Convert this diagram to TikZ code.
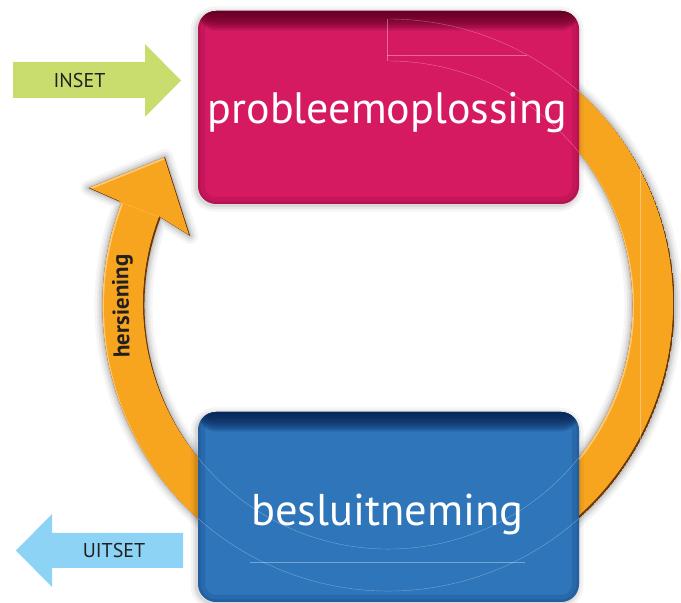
\documentclass[tikz,border=0pt]{standalone}
\usepackage{fontspec}
\setmainfont{PT Sans}
\definecolor{ringorange}{RGB}{247,165,30}
\definecolor{ringmid}{RGB}{196,118,18}
\definecolor{ringdark}{RGB}{112,56,0}
\definecolor{ringlight}{RGB}{252,200,118}
\definecolor{pinkmain}{RGB}{214,26,98}
\definecolor{pinkdark}{RGB}{100,0,36}
\definecolor{bluemain}{RGB}{46,117,186}
\definecolor{bluedark}{RGB}{8,36,86}
\definecolor{insetgreen}{RGB}{201,221,110}
\definecolor{uitsetblue}{RGB}{141,211,245}
\definecolor{textdark}{RGB}{35,31,32}
\tikzset{
  % annular arc around the two boxes, ending in an arrow head at the upper left
  ringshape/.style={insert path={
    (159:286pt) arc[start angle=159,end angle=420,radius=286pt]
    -- (420:244pt) arc[start angle=420,end angle=159,radius=244pt]
    -- (160.8:210pt) -- (146.5:268pt) -- (158.7:322pt) -- cycle}},
  tile/.style 2 args={rounded corners=18pt, inner sep=0pt, fill=#1,
    minimum width=381pt,
    path picture={
      % darkening that fades downwards from the top edge
      \foreach \i in {1,...,14}
        \fill[#2, opacity=0.15]
          ([yshift=2pt]path picture bounding box.north west)
          rectangle ([yshift=-\i*1.4pt]path picture bounding box.north east);
      % soft inner shadow along the sides
      \draw[#2, opacity=0.14, line width=14pt, rounded corners=18pt]
        (path picture bounding box.south west) rectangle (path picture bounding box.north east);
      \draw[#2, opacity=0.14, line width=5pt, rounded corners=18pt]
        (path picture bounding box.south west) rectangle (path picture bounding box.north east);
    }},
  tiletext/.style={text=white, anchor=base, inner sep=0pt},
  guide/.style={white, opacity=0.35, line width=0.4pt},
  sidetext/.style={text=textdark, font=\fontsize{20}{20}\selectfont, inner sep=0pt},
}
\begin{document}
\begin{tikzpicture}[x=1pt,y=1pt]
\useasboundingbox (0,0) rectangle (681,603);

% ---------- the circular arrow ----------
\begin{scope}[shift={(388.5,298)}]
  % soft halo
  \foreach \w/\o in {16/0.04,11/0.05,7/0.07,3/0.09}
    \draw[black, opacity=\o, line width=\w pt, line join=round, ringshape];
  % bevelled body
  \begin{scope}
    \clip[ringshape];
    \fill[ringdark, ringshape];
    \clip[shift={(-1.5,1.5)}, ringshape];
    \fill[ringmid, ringshape];
    \clip[shift={(-1.8,1.8)}, ringshape];
    \fill[ringlight, ringshape];
    \clip[shift={(1.6,-1.6)}, ringshape];
    \fill[ringorange, ringshape];
  \end{scope}
  % seam between head and shaft
  \draw[white, opacity=0.5, line width=0.4pt, dash pattern=on 1pt off 1pt]
    (159:244pt) -- (159:286pt);
  % faint vertical guide on the right arc
  \begin{scope}
    \clip[ringshape];
    \draw[guide] (251.5,135) -- (251.5,-150);
  \end{scope}
\end{scope}

% ---------- box shadows ----------
\foreach \yc/\h in {495.5/193, 96/190}{
  \foreach \w/\o in {12/0.04,7/0.05,3/0.07}
    \draw[black, opacity=\o, line width=\w pt, rounded corners=18pt]
      (196.5,\yc-\h/2-1.5) rectangle (577.5,\yc+\h/2-1.5);
}

% ---------- boxes ----------
\node[tile={pinkmain}{pinkdark}, minimum height=193pt] (pbox) at (388.5,495.5) {};
\node[tile={bluemain}{bluedark}, minimum height=190pt] (bbox) at (388.5,96) {};

% faint guide lines over the boxes
\begin{scope}[shift={(388.5,298)}]
  \begin{scope}
    \clip[rounded corners=18pt] (-190.5,101) rectangle (190.5,294);
    \draw[guide] (90:286pt) arc[start angle=90,end angle=30,radius=286pt];
    \draw[guide] (90:244pt) arc[start angle=90,end angle=20,radius=244pt];
    \draw[guide] (-1.5,286) -- (-1.5,244);
    \draw[guide] (-1.5,250) -- (138.7,250);
  \end{scope}
  \begin{scope}
    \clip[rounded corners=18pt] (-190.5,-297) rectangle (190.5,-107);
    \draw[guide] (195:286pt) arc[start angle=195,end angle=345,radius=286pt];
    \draw[guide] (195:244pt) arc[start angle=195,end angle=345,radius=244pt];
    \draw[guide] (-138.5,-257) -- (136.5,-257);
  \end{scope}
\end{scope}

\node[tiletext, font=\fontsize{44}{44}\selectfont] (ptext) at (387.5,479) {probleemoplossing};
\node[tiletext, font=\fontsize{44.5}{44.5}\selectfont] (btext) at (387.5,77) {besluitneming};

% ---------- label on the return arrow ----------
\node[text=textdark, font=\bfseries\fontsize{23}{23}\selectfont, rotate=91, inner sep=0pt]
  (hers) at (123,297) {hersiening};

% ---------- input and output arrows ----------
\fill[insetgreen] (13,505) -- (145,505) -- (145,486) -- (181,522.5) -- (145,559) -- (145,541) -- (13,541) -- cycle;
\node[sidetext] (inset) at (79.5,522) {INSET};

\fill[uitsetblue] (183,35) -- (52,35) -- (52,16) -- (16,52.5) -- (52,89) -- (52,70) -- (183,70) -- cycle;
\node[sidetext] (uitset) at (114,52) {UITSET};
\end{tikzpicture}
\end{document}
